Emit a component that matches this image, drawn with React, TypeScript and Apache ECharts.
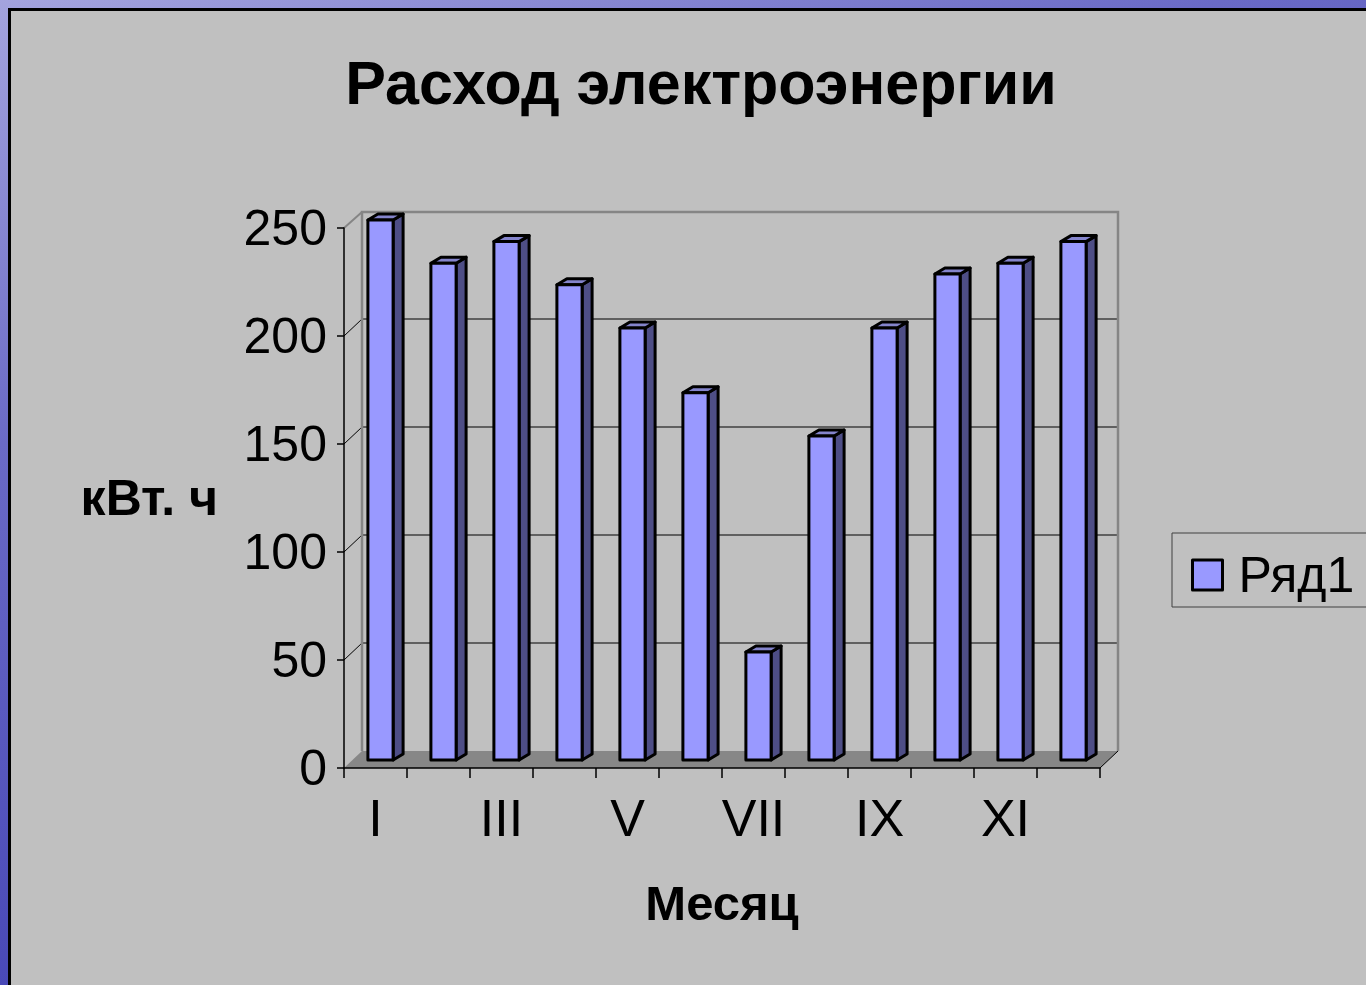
import React, { useEffect, useRef } from "react";
import * as echarts from "echarts";

const months = ["I", "II", "III", "IV", "V", "VI", "VII", "VIII", "IX", "X", "XI", "XII"];
const usage = [250, 230, 240, 220, 200, 170, 50, 150, 200, 225, 230, 240];
const yTicks = [0, 50, 100, 150, 200, 250];
const seriesName = "Ряд1";
const titleText = "Расход электроэнергии";
const yName = "кВт. ч";
const xName = "Месяц";

const FONT = "'Liberation Sans', Arial, sans-serif";
// 3D offsets (pixels)
const BACK_DX = 18;
const BACK_DY = -17;
const BAR_OX = 5;
const BAR_OY = -8;
const DEPTH_DX = 10;
const DEPTH_DY = -6;

export default function App() {
  const ref = useRef<HTMLDivElement>(null);

  useEffect(() => {
    if (!ref.current) return;
    const chart = echarts.init(ref.current, undefined, { renderer: "svg" });
    const maxV = yTicks[yTicks.length - 1];

    const option: any = {
      animation: false,
      backgroundColor: "transparent",
      title: {
        text: titleText,
        left: 701,
        top: 52,
        textAlign: "center",
        padding: 0,
        textStyle: { fontFamily: FONT, fontWeight: "bold", fontSize: 61, color: "#000" },
      },
      legend: {
        data: [seriesName],
        left: 1172,
        top: 533,
        orient: "vertical",
        padding: [17, 40, 7, 19],
        borderColor: "#404040",
        borderWidth: 1,
        itemWidth: 30,
        itemHeight: 30,
        icon: "rect",
        itemStyle: { color: "#9999ff", borderColor: "#000", borderWidth: 3, borderJoin: "round" },
        textStyle: { fontFamily: FONT, fontSize: 50, color: "#000", padding: [0, 0, 0, 11] },
      },
      grid: { left: 344, right: 266, top: 228, bottom: 217 },
      xAxis: {
        type: "category",
        data: months,
        z: 5,
        name: xName,
        nameLocation: "middle",
        nameGap: 110,
        nameTextStyle: { fontFamily: FONT, fontWeight: "bold", fontSize: 49, color: "#000" },
        axisLine: { lineStyle: { color: "#000", width: 1.5 } },
        axisTick: { show: true, interval: 0, length: 10, lineStyle: { color: "#000", width: 1.5 } },
        axisLabel: { interval: 1, margin: 24, fontFamily: FONT, fontSize: 52, color: "#000" },
        splitLine: { show: false },
      },
      yAxis: {
        type: "value",
        min: 0,
        max: maxV,
        interval: 50,
        z: 5,
        name: yName,
        nameLocation: "middle",
        nameRotate: 0,
        nameGap: 126,
        nameTextStyle: { fontFamily: FONT, fontWeight: "bold", fontSize: 50, color: "#000" },
        axisLine: { show: true, lineStyle: { color: "#000", width: 1.5 } },
        axisTick: { show: true, length: 7, lineStyle: { color: "#000", width: 1.5 } },
        axisLabel: { margin: 17, fontFamily: FONT, fontSize: 50, color: "#000" },
        splitLine: { show: false },
      },
      series: [
        {
          name: "walls",
          type: "custom",
          z: 1,
          silent: true,
          data: yTicks.map((v) => [0, v]),
          encode: { x: 0, y: 1 },
          renderItem: (params: any, api: any) => {
            const v = api.value(1);
            const bw = api.size([1, 0])[0];
            const x0 = api.coord([0, 0])[0] - bw / 2;
            const x1 = api.coord([months.length - 1, 0])[0] + bw / 2;
            const y0 = api.coord([0, 0])[1];
            const yv = api.coord([0, v])[1];
            const yTop = api.coord([0, maxV])[1];
            const children: any[] = [];
            const gray = "#858585";
            if (v === 0) {
              children.push({
                type: "polygon",
                shape: { points: [[x0, y0], [x0 + BACK_DX, y0 + BACK_DY], [x1 + BACK_DX, y0 + BACK_DY], [x1, y0]] },
                style: { fill: "#878787", stroke: "none" },
              });
              children.push({
                type: "line",
                shape: { x1: x1, y1: y0, x2: x1 + BACK_DX, y2: y0 + BACK_DY },
                style: { stroke: "#000", lineWidth: 1 },
              });
            } else if (v === maxV) {
              children.push({
                type: "polyline",
                shape: {
                  points: [
                    [x0 + BACK_DX, y0 + BACK_DY],
                    [x0 + BACK_DX, yTop + BACK_DY + 1],
                    [x1 + BACK_DX, yTop + BACK_DY + 1],
                    [x1 + BACK_DX, y0 + BACK_DY],
                  ],
                },
                style: { fill: "none", stroke: gray, lineWidth: 2.5 },
              });
              children.push({
                type: "line",
                shape: { x1: x0, y1: yTop, x2: x0 + BACK_DX, y2: yTop + BACK_DY + 1 },
                style: { stroke: gray, lineWidth: 2 },
              });
            } else {
              children.push({
                type: "line",
                shape: { x1: x0 + BACK_DX, y1: yv + BACK_DY, x2: x1 + BACK_DX, y2: yv + BACK_DY },
                style: { stroke: "#000", lineWidth: 1 },
              });
              children.push({
                type: "line",
                shape: { x1: x0, y1: yv, x2: x0 + BACK_DX, y2: yv + BACK_DY },
                style: { stroke: "#000", lineWidth: 1 },
              });
            }
            return { type: "group", children };
          },
        },
        {
          name: seriesName,
          type: "custom",
          z: 3,
          data: months.map((m, i) => [i, usage[i]]),
          encode: { x: 0, y: 1 },
          itemStyle: { color: "#9999ff", borderColor: "#000", borderWidth: 2.5 },
          renderItem: (params: any, api: any) => {
            const i = api.value(0);
            const v = api.value(1);
            const top = api.coord([i, v]);
            const base = api.coord([i, 0]);
            const bw = api.size([1, 0])[0];
            const w = bw * 0.4;
            const x = top[0] - w / 2 + BAR_OX;
            const yT = top[1] + BAR_OY;
            const yB = base[1] + BAR_OY;
            const line = { stroke: "#000", lineWidth: 3, lineJoin: "round" };
            return {
              type: "group",
              children: [
                {
                  type: "polygon",
                  shape: { points: [[x + w, yT], [x + w + DEPTH_DX, yT + DEPTH_DY], [x + w + DEPTH_DX, yB + DEPTH_DY], [x + w, yB]] },
                  style: { fill: "#4e4e86", ...line },
                },
                {
                  type: "polygon",
                  shape: { points: [[x, yT], [x + w, yT], [x + w + DEPTH_DX, yT + DEPTH_DY], [x + DEPTH_DX, yT + DEPTH_DY]] },
                  style: { fill: "#8484cc", ...line },
                },
                {
                  type: "rect",
                  shape: { x, y: yT, width: w, height: yB - yT },
                  style: { fill: "#9999ff", ...line },
                },
              ],
            };
          },
        },
      ],
    };
    chart.setOption(option);
    return () => chart.dispose();
  }, []);

  return (
    <div
      style={{
        position: "fixed",
        left: 0,
        top: 0,
        width: 1366,
        height: 985,
        overflow: "hidden",
        background: "linear-gradient(160deg, #a4a4de 0%, #6a6ac6 30%, #4646b6 70%, #3434a8 100%)",
      }}
    >
      <div
        style={{
          position: "absolute",
          left: 8,
          top: 8,
          width: 1400,
          height: 1000,
          background: "#c0c0c0",
          borderLeft: "3px solid #000",
          borderTop: "3px solid #000",
        }}
      />
      <div ref={ref} style={{ position: "absolute", left: 0, top: 0, width: 1366, height: 985 }} />
    </div>
  );
}
